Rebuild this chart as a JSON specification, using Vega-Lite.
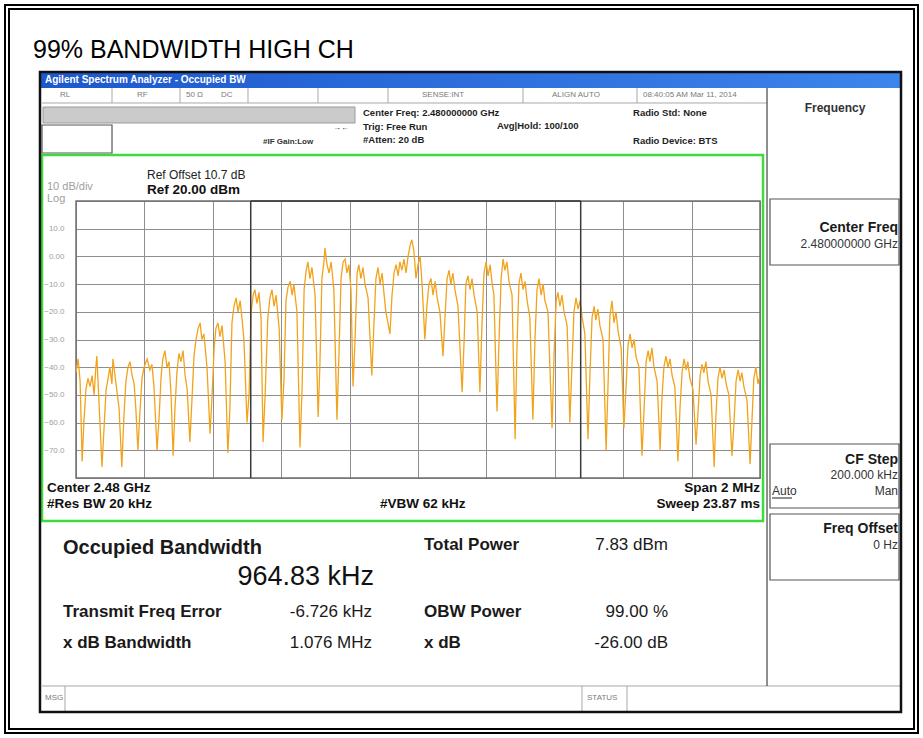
{
  "$schema": "https://vega.github.io/schema/vega-lite/v6.json",
  "width": 684,
  "height": 277,
  "autosize": {"type": "none"},
  "padding": {"left": 76, "top": 201, "right": 163, "bottom": 260},
  "background": "#ffffff",
  "config": {"view": {"stroke": null}, "font": "Liberation Sans"},
  "datasets": {
    "trace": [
      {"x":-1000,"y":-42},{"x":-994,"y":-37},{"x":-988,"y":-45},{"x":-982,"y":-74},{"x":-977,"y":-60},{"x":-971,"y":-48},{"x":-965,"y":-44},{"x":-959,"y":-47},{"x":-953,"y":-43},{"x":-947,"y":-50},{"x":-942,"y":-40},{"x":-939,"y":-36},{"x":-933,"y":-52},{"x":-924,"y":-76},{"x":-918,"y":-62},{"x":-912,"y":-48},{"x":-906,"y":-44},{"x":-901,"y":-40},{"x":-895,"y":-46},{"x":-892,"y":-37},{"x":-886,"y":-43},{"x":-880,"y":-49},{"x":-874,"y":-55},{"x":-866,"y":-76},{"x":-860,"y":-58},{"x":-854,"y":-45},{"x":-848,"y":-40},{"x":-842,"y":-38},{"x":-836,"y":-43},{"x":-830,"y":-46},{"x":-825,"y":-55},{"x":-819,"y":-70},{"x":-813,"y":-56},{"x":-807,"y":-44},{"x":-801,"y":-40},{"x":-792,"y":-37},{"x":-784,"y":-41},{"x":-778,"y":-39},{"x":-772,"y":-47},{"x":-763,"y":-70},{"x":-757,"y":-58},{"x":-751,"y":-43},{"x":-746,"y":-37},{"x":-740,"y":-34},{"x":-734,"y":-40},{"x":-728,"y":-38},{"x":-722,"y":-50},{"x":-716,"y":-72},{"x":-711,"y":-56},{"x":-705,"y":-42},{"x":-699,"y":-35},{"x":-693,"y":-38},{"x":-687,"y":-34},{"x":-681,"y":-43},{"x":-675,"y":-48},{"x":-667,"y":-67},{"x":-661,"y":-52},{"x":-655,"y":-36},{"x":-649,"y":-30},{"x":-643,"y":-26},{"x":-637,"y":-24},{"x":-632,"y":-30},{"x":-626,"y":-28},{"x":-617,"y":-40},{"x":-608,"y":-64},{"x":-602,"y":-50},{"x":-596,"y":-33},{"x":-591,"y":-26},{"x":-585,"y":-24},{"x":-579,"y":-29},{"x":-573,"y":-25},{"x":-564,"y":-38},{"x":-556,"y":-71},{"x":-550,"y":-55},{"x":-544,"y":-24},{"x":-538,"y":-18},{"x":-532,"y":-15},{"x":-526,"y":-20},{"x":-520,"y":-16},{"x":-515,"y":-22},{"x":-509,"y":-30},{"x":-500,"y":-60},{"x":-494,"y":-50},{"x":-488,"y":-20},{"x":-482,"y":-14},{"x":-477,"y":-12},{"x":-471,"y":-17},{"x":-465,"y":-13},{"x":-459,"y":-22},{"x":-453,"y":-67},{"x":-447,"y":-50},{"x":-439,"y":-22},{"x":-433,"y":-15},{"x":-427,"y":-12},{"x":-421,"y":-18},{"x":-415,"y":-14},{"x":-406,"y":-26},{"x":-398,"y":-59},{"x":-392,"y":-45},{"x":-386,"y":-16},{"x":-380,"y":-11},{"x":-374,"y":-9},{"x":-368,"y":-14},{"x":-363,"y":-10},{"x":-354,"y":-20},{"x":-345,"y":-69},{"x":-339,"y":-48},{"x":-333,"y":-12},{"x":-327,"y":-5},{"x":-322,"y":-2},{"x":-316,"y":-8},{"x":-310,"y":-4},{"x":-301,"y":-14},{"x":-292,"y":-58},{"x":-287,"y":-40},{"x":-281,"y":-8},{"x":-275,"y":-2},{"x":-272,"y":3},{"x":-266,"y":-3},{"x":-260,"y":-6},{"x":-254,"y":-2},{"x":-246,"y":-12},{"x":-237,"y":-59},{"x":-231,"y":-35},{"x":-225,"y":-8},{"x":-219,"y":-2},{"x":-213,"y":-1},{"x":-208,"y":-6},{"x":-202,"y":-3},{"x":-196,"y":-12},{"x":-190,"y":-47},{"x":-184,"y":-30},{"x":-178,"y":-6},{"x":-173,"y":-3},{"x":-167,"y":-8},{"x":-161,"y":-4},{"x":-155,"y":-10},{"x":-146,"y":-15},{"x":-135,"y":-43},{"x":-129,"y":-25},{"x":-123,"y":-8},{"x":-117,"y":-4},{"x":-111,"y":-10},{"x":-105,"y":-6},{"x":-99,"y":-14},{"x":-94,"y":-20},{"x":-82,"y":-28},{"x":-76,"y":-14},{"x":-70,"y":-6},{"x":-64,"y":-3},{"x":-58,"y":-7},{"x":-53,"y":-2},{"x":-47,"y":-5},{"x":-41,"y":-1},{"x":-35,"y":-6},{"x":-29,"y":0},{"x":-23,"y":4},{"x":-18,"y":6},{"x":-12,"y":2},{"x":-6,"y":-8},{"x":0,"y":-3},{"x":6,"y":0},{"x":12,"y":-10},{"x":20,"y":-30},{"x":26,"y":-18},{"x":32,"y":-10},{"x":38,"y":-8},{"x":44,"y":-14},{"x":50,"y":-9},{"x":56,"y":-15},{"x":64,"y":-20},{"x":73,"y":-36},{"x":79,"y":-22},{"x":85,"y":-8},{"x":91,"y":-5},{"x":96,"y":-10},{"x":102,"y":-6},{"x":108,"y":-12},{"x":117,"y":-18},{"x":129,"y":-49},{"x":135,"y":-30},{"x":140,"y":-10},{"x":146,"y":-7},{"x":152,"y":-12},{"x":158,"y":-8},{"x":164,"y":-14},{"x":173,"y":-20},{"x":181,"y":-49},{"x":187,"y":-25},{"x":193,"y":-6},{"x":199,"y":-2},{"x":205,"y":-7},{"x":211,"y":-3},{"x":216,"y":-9},{"x":222,"y":-14},{"x":231,"y":-56},{"x":237,"y":-30},{"x":243,"y":-8},{"x":249,"y":-1},{"x":254,"y":-5},{"x":260,"y":-2},{"x":266,"y":-9},{"x":275,"y":-14},{"x":284,"y":-66},{"x":289,"y":-35},{"x":295,"y":-10},{"x":301,"y":-6},{"x":307,"y":-12},{"x":313,"y":-9},{"x":319,"y":-16},{"x":327,"y":-22},{"x":336,"y":-59},{"x":342,"y":-30},{"x":348,"y":-12},{"x":354,"y":-8},{"x":360,"y":-14},{"x":366,"y":-10},{"x":371,"y":-16},{"x":380,"y":-20},{"x":392,"y":-62},{"x":398,"y":-35},{"x":404,"y":-16},{"x":409,"y":-13},{"x":415,"y":-18},{"x":421,"y":-14},{"x":427,"y":-20},{"x":436,"y":-25},{"x":444,"y":-60},{"x":450,"y":-40},{"x":456,"y":-20},{"x":462,"y":-15},{"x":468,"y":-19},{"x":474,"y":-16},{"x":480,"y":-22},{"x":488,"y":-28},{"x":497,"y":-66},{"x":503,"y":-42},{"x":509,"y":-22},{"x":515,"y":-18},{"x":520,"y":-23},{"x":526,"y":-19},{"x":532,"y":-25},{"x":541,"y":-30},{"x":550,"y":-70},{"x":556,"y":-45},{"x":561,"y":-22},{"x":567,"y":-16},{"x":573,"y":-24},{"x":579,"y":-20},{"x":585,"y":-27},{"x":594,"y":-33},{"x":602,"y":-62},{"x":608,"y":-48},{"x":614,"y":-32},{"x":620,"y":-28},{"x":626,"y":-33},{"x":632,"y":-30},{"x":637,"y":-36},{"x":646,"y":-40},{"x":655,"y":-72},{"x":661,"y":-55},{"x":667,"y":-38},{"x":673,"y":-34},{"x":678,"y":-38},{"x":684,"y":-33},{"x":690,"y":-40},{"x":699,"y":-45},{"x":708,"y":-70},{"x":713,"y":-52},{"x":719,"y":-40},{"x":725,"y":-36},{"x":731,"y":-40},{"x":737,"y":-37},{"x":743,"y":-43},{"x":751,"y":-47},{"x":760,"y":-74},{"x":766,"y":-55},{"x":772,"y":-42},{"x":778,"y":-37},{"x":784,"y":-41},{"x":789,"y":-38},{"x":795,"y":-44},{"x":804,"y":-48},{"x":813,"y":-68},{"x":819,"y":-56},{"x":825,"y":-43},{"x":830,"y":-39},{"x":836,"y":-42},{"x":842,"y":-38},{"x":848,"y":-45},{"x":857,"y":-50},{"x":866,"y":-76},{"x":871,"y":-58},{"x":877,"y":-44},{"x":883,"y":-40},{"x":889,"y":-44},{"x":895,"y":-41},{"x":901,"y":-46},{"x":909,"y":-50},{"x":918,"y":-72},{"x":924,"y":-60},{"x":930,"y":-45},{"x":936,"y":-41},{"x":942,"y":-45},{"x":947,"y":-42},{"x":953,"y":-47},{"x":962,"y":-52},{"x":971,"y":-75},{"x":977,"y":-58},{"x":982,"y":-44},{"x":988,"y":-40},{"x":994,"y":-46},{"x":1000,"y":-43}
    ],
    "markers": [
      {"x":-489.1,"x2":-489.1,"y":20,"y2":-80},
      {"x":475.7,"x2":475.7,"y":20,"y2":-80},
      {"x":-489.1,"x2":475.7,"y":20,"y2":20}
    ],
    "frame_outer": [
      {"x":-1207.6,"x2":1462.0,"y":90.76,"y2":-172.06},
      {"x":-1195.9,"x2":1450.3,"y":89.31,"y2":-170.61}
    ],
    "blue_bar": [{"x":-1105.3,"x2":1412.3,"y":66.57,"y2":60.79}],
    "window": [{"x":-1105.3,"x2":1412.3,"y":66.57,"y2":-164.48}],
    "gray_bar": [{"x":-1096.5,"x2":-184.2,"y":53.93,"y2":48.16}],
    "boxes": [
      {"x":-1099.4,"x2":-894.7,"y":47.44,"y2":37.33},
      {"x":1029.2,"x2":1406.4,"y":20.72,"y2":-3.10},
      {"x":1029.2,"x2":1406.4,"y":-67.72,"y2":-90.83},
      {"x":1029.2,"x2":1406.4,"y":-93.00,"y2":-116.82}
    ],
    "green": [{"x":-1099.4,"x2":1008.8,"y":36.61,"y2":-95.52}],
    "gridframe": [{"x":-1000,"x2":1000,"y":20,"y2":-80}],
    "lines_light": [
      {"x":-1099.4,"x2":1020.5,"y":55.38,"y2":55.38},
      {"x":-894.7,"x2":-894.7,"y":60.79,"y2":55.38},
      {"x":-695.9,"x2":-695.9,"y":60.79,"y2":55.38},
      {"x":-497.1,"x2":-497.1,"y":60.79,"y2":55.38},
      {"x":-292.4,"x2":-292.4,"y":60.79,"y2":55.38},
      {"x":-87.7,"x2":-87.7,"y":60.79,"y2":55.38},
      {"x":307.0,"x2":307.0,"y":60.79,"y2":55.38},
      {"x":640.4,"x2":640.4,"y":60.79,"y2":55.38},
      {"x":-1099.4,"x2":1412.3,"y":-155.09,"y2":-155.09},
      {"x":-1032.2,"x2":-1032.2,"y":-155.09,"y2":-164.48},
      {"x":479.5,"x2":479.5,"y":-155.09,"y2":-164.48},
      {"x":611.1,"x2":611.1,"y":-155.09,"y2":-164.48}
    ],
    "lines_dark": [
      {"x":1020.5,"x2":1020.5,"y":60.79,"y2":-155.09},
      {"x":1035.1,"x2":1093.6,"y":-87.22,"y2":-87.22}
    ],
    "title": [{"x":-1125.7,"y":74.5,"t":"99% BANDWIDTH HIGH CH"}],
    "bar_text": [{"x":-1090.6,"y":63.7,"t":"Agilent Spectrum Analyzer - Occupied BW"}],
    "status_text": [
      {"x":-1046.8,"y":58.3,"t":"RL"},
      {"x":-821.6,"y":58.3,"t":"RF"},
      {"x":-678.4,"y":58.3,"t":"50 Ω"},
      {"x":-576.0,"y":58.3,"t":"DC"},
      {"x":11.7,"y":58.3,"t":"SENSE:INT"},
      {"x":391.8,"y":58.3,"t":"ALIGN AUTO"},
      {"x":657.9,"y":58.3,"t":"08:40:05 AM Mar 11, 2014"},
      {"x":-1090.6,"y":-159.4,"t":"MSG"},
      {"x":494.2,"y":-159.4,"t":"STATUS"}
    ],
    "head_text": [
      {"x":-160.8,"y":51.77,"t":"Center Freq: 2.480000000 GHz"},
      {"x":-160.8,"y":46.71,"t":"Trig: Free Run"},
      {"x":-160.8,"y":42.02,"t":"#Atten: 20 dB"},
      {"x":231.0,"y":47.08,"t":"Avg|Hold: 100/100"},
      {"x":628.7,"y":51.77,"t":"Radio Std: None"},
      {"x":628.7,"y":41.66,"t":"Radio Device: BTS"}
    ],
    "head_small": [
      {"x":-453.2,"y":41.3,"t":"#IF Gain:Low"},
      {"x":-248.5,"y":46.35,"t":"→←"}
    ],
    "plot_small": [{"x":-792.4,"y":29.39,"t":"Ref Offset 10.7 dB"}],
    "plot_bold_l": [
      {"x":-792.4,"y":23.97,"t":"Ref 20.00 dBm"},
      {"x":-1084.8,"y":-83.6,"t":"Center  2.48 GHz"},
      {"x":-1084.8,"y":-89.4,"t":"#Res BW  20 kHz"},
      {"x":-111.1,"y":-89.4,"t":"#VBW  62 kHz"}
    ],
    "plot_bold_r": [
      {"x":1000,"y":-83.6,"t":"Span 2 MHz"},
      {"x":1000,"y":-89.4,"t":"Sweep  23.87 ms"}
    ],
    "gray_text": [
      {"x":-1084.8,"y":25.05,"t":"10 dB/div"},
      {"x":-1084.8,"y":20.72,"t":"Log"}
    ],
    "obw_title": [{"x":-1038.0,"y":-105.27,"t":"Occupied Bandwidth"}],
    "table_labels": [
      {"x":17.5,"y":-104.19,"t":"Total Power"},
      {"x":-1038.0,"y":-128.38,"t":"Transmit Freq Error"},
      {"x":17.5,"y":-128.38,"t":"OBW Power"},
      {"x":-1038.0,"y":-139.57,"t":"x dB Bandwidth"},
      {"x":17.5,"y":-139.57,"t":"x dB"}
    ],
    "table_values": [
      {"x":731.0,"y":-104.19,"t":"7.83 dBm"},
      {"x":-134.5,"y":-128.38,"t":"-6.726 kHz"},
      {"x":731.0,"y":-128.38,"t":"99.00 %"},
      {"x":-134.5,"y":-139.57,"t":"1.076 MHz"},
      {"x":731.0,"y":-139.57,"t":"-26.00 dB"}
    ],
    "big_value": [{"x":-128.7,"y":-115.74,"t":"964.83 kHz"}],
    "panel_title": [{"x":1219.3,"y":53.57,"t":"Frequency"}],
    "panel_bold": [
      {"x":1403.5,"y":10.25,"t":"Center Freq"},
      {"x":1403.5,"y":-73.5,"t":"CF Step"},
      {"x":1403.5,"y":-98.41,"t":"Freq Offset"}
    ],
    "panel_small": [
      {"x":1403.5,"y":4.48,"t":"2.480000000 GHz"},
      {"x":1403.5,"y":-78.92,"t":"200.000 kHz"},
      {"x":1403.5,"y":-84.69,"t":"Man"},
      {"x":1403.5,"y":-104.19,"t":"0 Hz"}
    ],
    "panel_auto": [{"x":1035.1,"y":-84.69,"t":"Auto"}]
  },
  "encoding": {
    "x": {
      "field": "x", "type": "quantitative",
      "scale": {"domain": [-1000, 1000], "nice": false, "zero": false},
      "axis": {"values": [-1000,-800,-600,-400,-200,0,200,400,600,800,1000], "grid": true, "gridColor": "#8e8e8e", "gridWidth": 1, "labels": false, "ticks": false, "domain": false, "title": null}
    },
    "y": {
      "field": "y", "type": "quantitative",
      "scale": {"domain": [-80, 20], "nice": false, "zero": false},
      "axis": {"values": [20,10,0,-10,-20,-30,-40,-50,-60,-70,-80], "grid": true, "gridColor": "#8e8e8e", "gridWidth": 1, "ticks": false, "domain": false, "title": null, "labelOverlap": false, "labelExpr": "datum.value == 20 || datum.value == -80 ? '' : (datum.value == 0 ? '0.00' : format(datum.value, '.1f'))", "labelColor": "#a0a0a0", "labelFontSize": 8, "labelFont": "Liberation Sans", "labelPadding": 12}
    }
  },
  "layer": [
    {"data": {"name": "frame_outer"}, "mark": {"type": "rect", "fill": null, "stroke": "#000000", "strokeWidth": 2}, "encoding": {"x2": {"field": "x2"}, "y2": {"field": "y2"}}},
    {"data": {"name": "blue_bar"}, "mark": {"type": "rect", "color": {"gradient": "linear", "x1": 0, "x2": 1, "y1": 0, "y2": 0, "stops": [{"offset": 0, "color": "#1d58cc"}, {"offset": 1, "color": "#3d84ec"}]}}, "encoding": {"x2": {"field": "x2"}, "y2": {"field": "y2"}}},
    {"data": {"name": "gray_bar"}, "mark": {"type": "rect", "fill": "#cbcbcb", "stroke": "#9a9a9a", "strokeWidth": 1}, "encoding": {"x2": {"field": "x2"}, "y2": {"field": "y2"}}},
    {"data": {"name": "boxes"}, "mark": {"type": "rect", "fill": null, "stroke": "#555555", "strokeWidth": 1.2}, "encoding": {"x2": {"field": "x2"}, "y2": {"field": "y2"}}},
    {"data": {"name": "lines_light"}, "mark": {"type": "rule", "color": "#a8a8a8", "strokeWidth": 1}, "encoding": {"x2": {"field": "x2"}, "y2": {"field": "y2"}}},
    {"data": {"name": "lines_dark"}, "mark": {"type": "rule", "color": "#444444", "strokeWidth": 1.2}, "encoding": {"x2": {"field": "x2"}, "y2": {"field": "y2"}}},
    {"data": {"name": "gridframe"}, "mark": {"type": "rect", "fill": null, "stroke": "#707070", "strokeWidth": 1.5}, "encoding": {"x2": {"field": "x2"}, "y2": {"field": "y2"}}},
    {"data": {"name": "trace"}, "mark": {"type": "line", "color": "#f2a31c", "strokeWidth": 1.3, "clip": true}},
    {"data": {"name": "markers"}, "mark": {"type": "rule", "color": "#3a3a3a", "strokeWidth": 1.5}, "encoding": {"x2": {"field": "x2"}, "y2": {"field": "y2"}}},
    {"data": {"name": "green"}, "mark": {"type": "rect", "fill": null, "stroke": "#3ddc3d", "strokeWidth": 2.5}, "encoding": {"x2": {"field": "x2"}, "y2": {"field": "y2"}}},
    {"data": {"name": "window"}, "mark": {"type": "rect", "fill": null, "stroke": "#111111", "strokeWidth": 2.5}, "encoding": {"x2": {"field": "x2"}, "y2": {"field": "y2"}}},
    {"data": {"name": "title"}, "mark": {"type": "text", "align": "left", "baseline": "middle", "font": "Liberation Sans", "fontSize": 25, "color": "#000000"}, "encoding": {"text": {"field": "t"}}},
    {"data": {"name": "bar_text"}, "mark": {"type": "text", "align": "left", "baseline": "middle", "font": "Liberation Sans", "fontSize": 10, "fontWeight": "bold", "color": "#ffffff"}, "encoding": {"text": {"field": "t"}}},
    {"data": {"name": "status_text"}, "mark": {"type": "text", "align": "left", "baseline": "middle", "font": "Liberation Sans", "fontSize": 8, "color": "#7a7a7a"}, "encoding": {"text": {"field": "t"}}},
    {"data": {"name": "head_text"}, "mark": {"type": "text", "align": "left", "baseline": "middle", "font": "Liberation Sans", "fontSize": 9.5, "fontWeight": "bold", "color": "#1e1e1e"}, "encoding": {"text": {"field": "t"}}},
    {"data": {"name": "head_small"}, "mark": {"type": "text", "align": "left", "baseline": "middle", "font": "Liberation Sans", "fontSize": 8, "fontWeight": "bold", "color": "#333333"}, "encoding": {"text": {"field": "t"}}},
    {"data": {"name": "plot_small"}, "mark": {"type": "text", "align": "left", "baseline": "middle", "font": "Liberation Sans", "fontSize": 12, "color": "#222222"}, "encoding": {"text": {"field": "t"}}},
    {"data": {"name": "plot_bold_l"}, "mark": {"type": "text", "align": "left", "baseline": "middle", "font": "Liberation Sans", "fontSize": 13.5, "fontWeight": "bold", "color": "#111111"}, "encoding": {"text": {"field": "t"}}},
    {"data": {"name": "plot_bold_r"}, "mark": {"type": "text", "align": "right", "baseline": "middle", "font": "Liberation Sans", "fontSize": 13.5, "fontWeight": "bold", "color": "#111111"}, "encoding": {"text": {"field": "t"}}},
    {"data": {"name": "gray_text"}, "mark": {"type": "text", "align": "left", "baseline": "middle", "font": "Liberation Sans", "fontSize": 11, "color": "#a0a0a0"}, "encoding": {"text": {"field": "t"}}},
    {"data": {"name": "obw_title"}, "mark": {"type": "text", "align": "left", "baseline": "middle", "font": "Liberation Sans", "fontSize": 20, "fontWeight": "bold", "color": "#1a1a1a"}, "encoding": {"text": {"field": "t"}}},
    {"data": {"name": "table_labels"}, "mark": {"type": "text", "align": "left", "baseline": "middle", "font": "Liberation Sans", "fontSize": 17, "fontWeight": "bold", "color": "#1a1a1a"}, "encoding": {"text": {"field": "t"}}},
    {"data": {"name": "table_values"}, "mark": {"type": "text", "align": "right", "baseline": "middle", "font": "Liberation Sans", "fontSize": 17, "color": "#1a1a1a"}, "encoding": {"text": {"field": "t"}}},
    {"data": {"name": "big_value"}, "mark": {"type": "text", "align": "right", "baseline": "middle", "font": "Liberation Sans", "fontSize": 27, "color": "#111111"}, "encoding": {"text": {"field": "t"}}},
    {"data": {"name": "panel_title"}, "mark": {"type": "text", "align": "center", "baseline": "middle", "font": "Liberation Sans", "fontSize": 12, "fontWeight": "bold", "color": "#333333"}, "encoding": {"text": {"field": "t"}}},
    {"data": {"name": "panel_bold"}, "mark": {"type": "text", "align": "right", "baseline": "middle", "font": "Liberation Sans", "fontSize": 14, "fontWeight": "bold", "color": "#1a1a1a"}, "encoding": {"text": {"field": "t"}}},
    {"data": {"name": "panel_small"}, "mark": {"type": "text", "align": "right", "baseline": "middle", "font": "Liberation Sans", "fontSize": 12, "color": "#333333"}, "encoding": {"text": {"field": "t"}}},
    {"data": {"name": "panel_auto"}, "mark": {"type": "text", "align": "left", "baseline": "middle", "font": "Liberation Sans", "fontSize": 12, "color": "#333333"}, "encoding": {"text": {"field": "t"}}}
  ]
}
